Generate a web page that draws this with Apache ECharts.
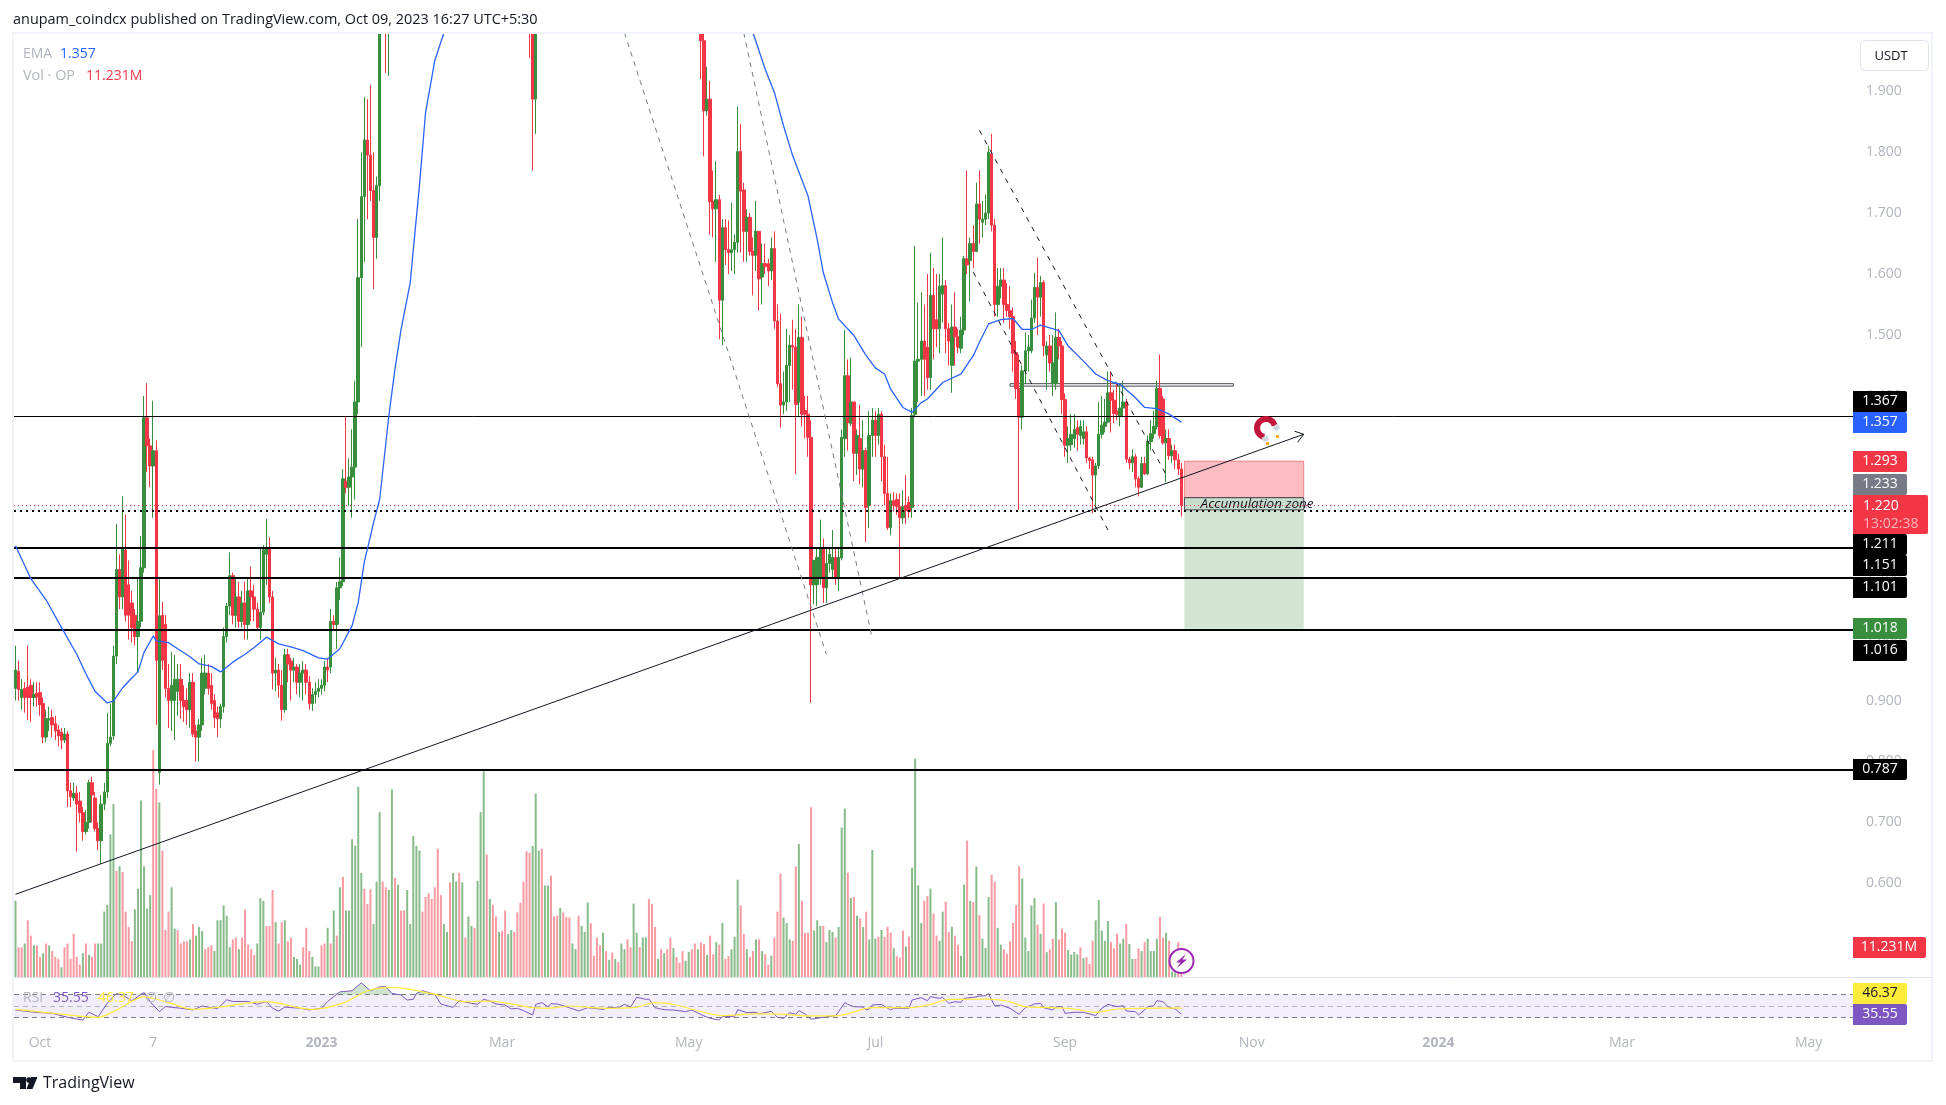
<!DOCTYPE html>
<html><head><meta charset="utf-8">
<style>html,body{margin:0;padding:0;background:#fff}#c{width:1946px;height:1105px}</style>
<script src="https://cdn.jsdelivr.net/npm/echarts@6/dist/echarts.min.js"></script>
</head><body><div id="c"></div>
<script>
// ---------- data ----------
const startDate = '2022-09-23';
const barCount = 382;
const axisSlots = 601;
const timeLabels = {'2022-10-01':'Oct','2022-11-07':'7','2023-01-01':'2023','2023-03-01':'Mar','2023-05-01':'May','2023-07-01':'Jul','2023-09-01':'Sep','2023-11-01':'Nov','2024-01-01':'2024','2024-03-01':'Mar','2024-05-01':'May'};
const priceTicks = [0.5,0.6,0.7,0.8,0.9,1.0,1.1,1.2,1.3,1.4,1.5,1.6,1.7,1.8,1.9];

// [open, close, low, high]; bars that sit entirely above the visible range are not readable and are left out
const ohlcStart = [
[.92,.95,.90,.99],[.948,.918,.90,.965],[.905,.918,.885,.935],[.92,.905,.88,.93],[.922,.905,.868,.99],[.925,.905,.865,.935],[.905,.91,.89,.93],[.912,.906,.89,.93],[.913,.893,.875,.93],[.895,.84,.83,.905],
[.84,.87,.832,.885],[.868,.87,.85,.89],[.872,.86,.84,.885],[.862,.85,.835,.875],[.852,.842,.825,.86],[.848,.835,.82,.855],[.835,.845,.83,.855],[.845,.752,.725,.85],[.752,.742,.725,.765],[.74,.748,.735,.765],
[.748,.73,.652,.76],[.735,.716,.70,.75],[.716,.685,.67,.725],[.685,.70,.68,.72],[.70,.765,.69,.77],[.765,.745,.70,.775],[.74,.69,.685,.75],[.69,.67,.655,.70],[.67,.73,.632,.745],[.73,.75,.72,.765],
[.75,.83,.74,.88],[.83,.84,.825,.895],[.842,.973,.835,.99],[.973,1.115,.96,1.19],[1.115,1.07,1.05,1.14],[1.07,1.15,1.05,1.235],[1.147,1.04,1.03,1.205],[1.09,1.04,1.0,1.13],[1.06,1.02,.995,1.08],[1.04,1.005,.99,1.05],
[1.005,1.03,.945,1.10],[1.03,1.118,1.02,1.17],[1.118,1.364,1.11,1.40],[1.364,1.318,1.275,1.421],[1.318,1.285,1.25,1.33],[1.285,1.31,1.20,1.392],[1.31,.966,.86,1.327],[.782,1.039,.762,1.10],[1.04,.966,.95,1.062],[1.025,.92,.905,1.04],
[.92,.90,.855,.96],[.90,.925,.85,.98],[.90,.935,.835,.975],[.915,.935,.875,.96],[.935,.90,.87,.96],[.90,.89,.865,.925],[.90,.885,.86,.92],[.885,.93,.855,.945],[.93,.845,.84,.945],[.85,.84,.80,.86],
[.84,.86,.80,.87],[.86,.945,.85,.97],[.92,.945,.91,.975],[.945,.92,.91,.96],[.925,.895,.885,.945],[.90,.872,.855,.91],[.88,.87,.84,.89],[.87,.89,.855,.895],[.89,1.005,.88,1.02],[1.005,1.055,.995,1.06],
[1.055,1.105,1.04,1.143],[1.105,1.04,1.025,1.11],[1.04,1.07,1.02,1.10],[1.07,1.03,1.02,1.095],[1.03,1.06,1.02,1.08],[1.06,1.025,1.0,1.095],[1.025,1.08,1.0,1.10],[1.08,1.07,1.03,1.12],[1.07,1.05,1.03,1.09],[1.05,1.02,1.015,1.06],
[1.02,1.045,1.0,1.15],[1.045,1.148,1.04,1.155],[1.14,1.15,1.09,1.198],[1.15,1.07,1.06,1.168],[1.07,.945,.918,1.08],[.945,.95,.915,.97],[.95,.925,.905,.96],[.925,.885,.867,.95],[.885,.975,.88,.985],[.975,.96,.93,.985],
[.965,.95,.90,.97],[.95,.955,.93,.97],[.955,.93,.91,.96],[.93,.945,.905,.96],[.945,.95,.90,.965],[.95,.93,.91,.96],[.93,.895,.885,.94],[.895,.91,.883,.92],[.91,.915,.895,.93],[.915,.92,.905,.935],
[.92,.925,.91,.935],[.925,.955,.915,.965],[.955,.95,.93,.97],[.955,1.03,.945,1.05],[1.03,1.025,1.015,1.04],[1.025,1.085,.985,1.095],[1.085,1.095,1.065,1.135],[1.095,1.264,1.088,1.28],[1.26,1.25,1.24,1.367],[1.25,1.267,1.22,1.297],
[1.267,1.283,1.20,1.345],[1.283,1.39,1.23,1.425],[1.39,1.594,1.37,1.69],[1.594,1.727,1.48,1.80],[1.727,1.82,1.62,1.89],[1.82,1.795,1.69,1.887],[1.795,1.737,1.72,1.91],[1.737,1.66,1.575,1.80],[1.66,1.745,1.625,1.76],[1.745,2.1,1.72,2.2],
null,[2.1,2.05,1.93,2.2],[2.05,2.1,1.925,2.2]];
const ohlcMarch = [[2.1,2.03,1.955,2.2],[2.1,1.887,1.77,2.2],[1.887,2.1,1.83,2.2]]; // bars 168-170
const ohlcEnd = [
[2.1,1.983,1.92,2.2],[1.983,1.868,1.793,2.0],[1.868,1.887,1.86,1.94],[1.887,1.719,1.665,1.917],[1.719,1.707,1.66,1.77],[1.707,1.722,1.62,1.785],[1.722,1.557,1.493,1.73],[1.557,1.676,1.483,1.69],[1.676,1.64,1.615,1.69],[1.64,1.635,1.60,1.688],
[1.635,1.64,1.605,1.717],[1.64,1.652,1.60,1.665],[1.652,1.801,1.635,1.875],[1.801,1.736,1.635,1.846],[1.738,1.67,1.62,1.75],[1.67,1.693,1.62,1.706],[1.693,1.637,1.63,1.70],[1.637,1.631,1.565,1.66],[1.631,1.67,1.605,1.72],[1.67,1.592,1.54,1.67],
[1.595,1.617,1.55,1.65],[1.617,1.612,1.60,1.65],[1.617,1.605,1.58,1.625],[1.605,1.642,1.59,1.66],[1.642,1.523,1.51,1.67],[1.523,1.42,1.415,1.55],[1.42,1.385,1.348,1.535],[1.385,1.39,1.37,1.44],[1.39,1.45,1.375,1.51],[1.45,1.483,1.39,1.50],
[1.483,1.48,1.41,1.525],[1.48,1.386,1.272,1.51],[1.39,1.496,1.365,1.55],[1.496,1.37,1.35,1.53],[1.376,1.37,1.33,1.40],[1.37,1.332,1.30,1.40],[1.332,1.09,.896,1.36],[1.09,1.13,1.058,1.13],[1.09,1.135,1.055,1.15],[1.10,1.15,1.09,1.197],
[1.15,1.085,1.06,1.166],[1.085,1.125,1.06,1.15],[1.125,1.14,1.11,1.15],[1.115,1.135,1.10,1.18],[1.135,1.10,1.09,1.15],[1.10,1.135,1.08,1.15],[1.134,1.332,1.13,1.345],[1.33,1.433,1.30,1.508],[1.433,1.356,1.31,1.46],[1.355,1.39,1.35,1.463],
[1.39,1.306,1.26,1.39],[1.306,1.335,1.27,1.345],[1.33,1.28,1.255,1.385],[1.28,1.31,1.25,1.36],[1.31,1.217,1.16,1.315],[1.22,1.335,1.183,1.375],[1.335,1.36,1.30,1.38],[1.36,1.335,1.30,1.375],[1.335,1.37,1.32,1.38],[1.37,1.30,1.26,1.375],
[1.30,1.24,1.22,1.32],[1.24,1.184,1.18,1.30],[1.184,1.228,1.171,1.24],[1.228,1.22,1.21,1.242],[1.23,1.218,1.205,1.24],[1.218,1.20,1.10,1.24],[1.20,1.218,1.19,1.245],[1.22,1.212,1.19,1.27],[1.225,1.21,1.20,1.235],[1.217,1.368,1.20,1.38],
[1.37,1.457,1.365,1.646],[1.457,1.46,1.39,1.553],[1.46,1.49,1.40,1.57],[1.49,1.46,1.40,1.55],[1.48,1.43,1.41,1.60],[1.43,1.565,1.41,1.635],[1.565,1.51,1.46,1.61],[1.525,1.51,1.48,1.60],[1.51,1.58,1.47,1.60],[1.567,1.581,1.52,1.66],
[1.581,1.51,1.47,1.59],[1.51,1.49,1.45,1.52],[1.45,1.513,1.405,1.55],[1.513,1.497,1.45,1.57],[1.497,1.48,1.47,1.51],[1.478,1.508,1.47,1.53],[1.508,1.625,1.50,1.63],[1.625,1.615,1.60,1.77],[1.622,1.65,1.555,1.66],[1.65,1.637,1.61,1.68],
[1.637,1.715,1.637,1.75],[1.715,1.69,1.65,1.77],[1.685,1.69,1.66,1.72],[1.69,1.70,1.68,1.73],[1.70,1.80,1.69,1.81],[1.797,1.68,1.67,1.83],[1.68,1.55,1.53,1.69],[1.55,1.58,1.53,1.61],[1.58,1.59,1.56,1.61],[1.59,1.55,1.52,1.61],
[1.55,1.54,1.53,1.585],[1.54,1.53,1.51,1.58],[1.53,1.47,1.44,1.545],[1.471,1.412,1.395,1.49],[1.412,1.365,1.213,1.468],[1.365,1.441,1.345,1.45],[1.441,1.474,1.42,1.504],[1.474,1.48,1.44,1.50],[1.474,1.528,1.47,1.558],[1.528,1.578,1.52,1.602],
[1.578,1.562,1.50,1.627],[1.562,1.586,1.53,1.597],[1.586,1.482,1.465,1.59],[1.467,1.482,1.41,1.49],[1.482,1.454,1.44,1.50],[1.42,1.454,1.40,1.50],[1.42,1.496,1.41,1.537],[1.496,1.482,1.46,1.51],[1.482,1.394,1.37,1.49],[1.394,1.319,1.30,1.404],
[1.319,1.33,1.29,1.35],[1.32,1.337,1.31,1.37],[1.33,1.345,1.315,1.37],[1.348,1.337,1.31,1.36],[1.335,1.35,1.32,1.36],[1.33,1.341,1.32,1.36],[1.341,1.298,1.29,1.35],[1.298,1.294,1.28,1.30],[1.295,1.27,1.207,1.30],[1.27,1.285,1.215,1.29],
[1.285,1.337,1.28,1.39],[1.337,1.352,1.33,1.40],[1.35,1.357,1.34,1.395],[1.357,1.405,1.355,1.44],[1.405,1.393,1.34,1.44],[1.393,1.371,1.355,1.41],[1.375,1.37,1.36,1.42],[1.367,1.38,1.35,1.42],[1.38,1.39,1.365,1.425],[1.39,1.296,1.29,1.395],
[1.296,1.29,1.28,1.30],[1.29,1.30,1.275,1.312],[1.30,1.264,1.25,1.305],[1.264,1.25,1.235,1.268],[1.25,1.289,1.25,1.30],[1.289,1.272,1.27,1.30],[1.272,1.325,1.27,1.335],[1.325,1.338,1.31,1.36],[1.338,1.35,1.33,1.375],[1.35,1.412,1.345,1.425],
[1.412,1.335,1.33,1.468],[1.395,1.323,1.32,1.40],[1.323,1.33,1.258,1.345],[1.33,1.302,1.295,1.345],[1.302,1.31,1.29,1.32],[1.31,1.295,1.28,1.32],[1.295,1.28,1.27,1.305],[1.28,1.22,1.202,1.29]];

// volume in millions: positive = green bar, negative = red bar
const volumeStart = [282,-110,-110,124,-210,-153,117,-117,-74,88,-124,117,-96,-74,-67,36,-110,-124,-67,-160,-74,-46,88,-124,82,-74,-124,124,124,242,267,528,640,-393,410,-389,-242,-185,-132,250,327,653,410,253,303,-875,-696,646,-468,-174,-242,332,179,-174,-124,-132,-132,139,-196,153,185,170,-103,-110,-117,96,210,210,265,227,110,-139,-146,103,-146,-250,-120,-103,-82,124,292,282,-189,-189,-322,203,-124,-203,210,-132,-146,74,67,46,-110,-182,-96,74,39,39,-117,-124,182,-124,246,-153,332,-370,246,246,510,486,704,385,-327,-270,-325,196,353,610,-353,-332,322,694,-367,342,-246,-246,322,196,522,485,468,-242,-296,-310,-289,-332,-475,-303,196,167,-350,385,353,-385,350,-146,224,189,-182,356,610,761,-453,289,-267,-224,167,-170,-246,160,174,-167,-239,-275,-353,-465,-460,485,679,468,-475,339,339,-375,-224,-227,256,-239,-222,-220,124,103,-227,189,167,275,-199,-79,-146,-117,164,-96,64,-90,67,-56,124,103,-139,-110,272,164,-110,146,146,-289,-270,-185,67,-103,88,-103,-146,107,-74,-53,-96,60,93,-103,-124,103];
const volumeEnd = [-127,-122,82,-153,-84,129,-120,200,-67,-77,103,149,360,-265,-160,103,-74,-96,139,-139,96,-84,-46,79,-146,-242,-383,220,200,139,-134,-409,492,-282,-164,-164,-628,172,210,189,-189,129,174,167,-146,185,553,623,-386,293,-296,227,-217,185,-242,139,470,142,-149,174,-149,-186,-164,107,-77,-72,-172,113,-149,405,808,339,200,-282,-299,327,-235,-153,134,242,-279,-167,186,-153,-120,79,342,-505,282,-277,409,-229,142,107,296,-379,-353,182,120,-103,-86,-132,-200,-267,-410,365,146,96,265,292,-193,160,-272,92,-103,-142,277,-139,-179,-164,100,83,93,84,-110,70,-74,-49,-134,210,285,172,134,207,-129,-106,-160,124,142,-196,122,67,-67,-106,96,-129,142,96,96,142,-222,-146,164,-134,21,17,-129,-11];

// [bar, value] points
const emaPoints = [[0,1.154],[5,1.10],[10,1.065],[15,1.02],[20,.976],[23,.944],[26,.915],[30,.896],[32,.899],[35,.921],[38,.937],[40,.947],[42,.979],[45,1.006],[46,.998],[50,.995],[53,.985],[57,.972],[60,.96],[64,.956],[67,.947],[71,.963],[75,.976],[78,.987],[82,1.004],[86,.993],[90,.988],[94,.982],[99,.97],[102,.968],[106,.985],[110,1.023],[112,1.061],[114,1.128],[116,1.17],[117,1.192],[119,1.23],[122,1.367],[124,1.444],[126,1.509],[129,1.586],[130,1.64],[132,1.745],[134,1.865],[137,1.95],[140,1.996],[190,null],[241,1.996],[245,1.936],[248,1.898],[251,1.843],[254,1.794],[259,1.728],[262,1.657],[264,1.602],[267,1.553],[269,1.526],[274,1.499],[278,1.466],[281,1.446],[284,1.436],[286,1.411],[290,1.381],[293,1.373],[296,1.389],[298,1.395],[303,1.422],[309,1.436],[313,1.466],[315,1.488],[318,1.518],[322,1.525],[326,1.527],[329,1.509],[332,1.509],[335,1.516],[341,1.507],[344,1.482],[349,1.457],[353,1.436],[357,1.425],[361,1.419],[366,1.397],[369,1.381],[373,1.379],[377,1.37],[381,1.357]];

const rsiPoints = [[0,43],[6,39],[12,37],[17,30],[22,25],[24,39],[27,31],[30,55],[33,72],[35,69.5],[38,59.4],[42,74],[44,57.6],[47,40],[49,49],[54,46],[58,43],[61,50],[66,45],[69,61],[71,58],[76,58],[79,53],[82,58],[84,46],[86,41],[88,48],[93,46],[96,43],[100,46],[102,58],[106,75],[110,77],[113,91],[116,77],[119,84],[121,84],[123,72.4],[126,69.5],[128,60.6],[130,61.8],[131,72],[133,77],[137,70.6],[139,53.5],[143,47.6],[145,59.4],[149,54.7],[151,53],[153,61.8],[155,58.8],[157,53.5],[160,51.8],[162,44.7],[164,45.9],[166,41.8],[169,34.1],[170,52.9],[172,55.9],[174,48.8],[175,54.1],[177,53.5],[179,50.6],[181,47],[184,41.2],[187,47],[192,44],[194,47.6],[197,47],[199,52.9],[201,48.2],[203,65.3],[206,61.8],[207,62.3],[209,47],[212,43.5],[215,42.9],[219,40],[221,42.9],[225,32.4],[227,28.2],[230,25.3],[231,31.2],[235,31.8],[236,43.5],[239,38.2],[242,38.8],[243,35.9],[247,40.6],[249,30],[251,28.2],[253,38.2],[255,35.3],[256,41.8],[258,35.9],[260,26.5],[264,30],[268,33],[269,40],[271,55.9],[272,52.9],[274,48.8],[277,48.2],[278,42.9],[279,44.7],[280,51.8],[283,52.9],[286,42.9],[287,45.9],[292,45.9],[293,60.6],[296,64.7],[298,59.4],[299,66.5],[302,63.5],[303,65.3],[305,54.7],[307,57.6],[309,56.5],[310,63.5],[313,65.3],[315,67.6],[317,68.2],[318,71.7],[320,50],[322,51.8],[325,45.9],[328,35.3],[330,47],[333,53.5],[335,54.7],[336,47],[339,42.9],[340,48.8],[342,48.8],[343,37],[346,38.8],[349,38.8],[353,33],[355,45.9],[357,52.9],[360,48.8],[362,50.6],[363,41.2],[366,40],[367,34.1],[369,42.9],[370,48.8],[372,50.6],[373,59.4],[375,57.6],[377,47],[379,44.7],[381,35.55]];
const rsiMaPoints = [[0,44],[11,38],[27,30],[33,43],[42,66],[50,56],[58,44],[82,57.6],[97,44],[107,55],[115,77],[123,83],[137,70.6],[147,57.6],[155,58.8],[169,47],[174,45.9],[181,50],[192,45.9],[202,47],[209,55.9],[216,51.8],[222,42.9],[231,33],[242,35.9],[251,35.3],[260,32.4],[269,33],[280,47],[286,47],[292,47],[299,52.9],[305,61.8],[318,62.3],[324,58.8],[330,48.8],[339,47],[346,44.7],[353,38.8],[360,44.7],[370,45.9],[381,46.37]];

// drawings: levels in price, anchors in [bar, price]
const solidLevels = [1.151,1.101,1.016,0.787];
const thinLevel = 1.367, dottedLevel = 1.211, lastPrice = 1.220;
const greyChannel = [[[199,1.996],[265,.976]],[[238,1.996],[280,1.001]]];
const blackChannel = [[[315,1.836],[376,1.271]],[[313,1.603],[357,1.18]]];
const trendLine = [[0,.582],[421,1.337]];
const arrowHead = [[[418,1.342],[421,1.337]],[[419,1.324],[421,1.337]]];
const resistanceBox = [[325,1.42],[398,1.416]];
const riskBox = [[382,1.293],[421,1.233]];
const rewardBox = [[382,1.233],[421,1.018]];
const accumulationBox = [[382,1.233],[421,1.213]];

// ---------- assembly ----------
const pad = n => String(n).padStart(2,'0');
const categories = [];
{ const d0 = new Date(startDate+'T00:00:00Z');
  for (let i=0;i<axisSlots;i++){ const d = new Date(d0.getTime()+i*864e5);
    categories.push(d.getUTCFullYear()+'-'+pad(d.getUTCMonth()+1)+'-'+pad(d.getUTCDate())); } }
const blank = ['-','-','-','-'];
const candles = new Array(barCount).fill(blank);
ohlcStart.forEach((c,i)=>{ if(c) candles[i]=c; });
ohlcMarch.forEach((c,i)=>{ candles[168+i]=c; });
ohlcEnd.forEach((c,i)=>{ candles[barCount-ohlcEnd.length+i]=c; });
const volumes = new Array(barCount).fill(null);
volumeStart.forEach((v,i)=>{ if(i<barCount-volumeEnd.length) volumes[i]=v; });
volumeEnd.forEach((v,i)=>{ volumes[barCount-volumeEnd.length+i]=v; });

const FONT = '"Open Sans", sans-serif';
const GREEN='#388e3c', RED='#f23645', AXIS='#b2b5be';
const seg = (pair,style)=>[{xAxis:pair[0][0],yAxis:pair[0][1],lineStyle:style,symbol:'none'},{xAxis:pair[1][0],yAxis:pair[1][1],symbol:'none'}];
const lvl = (y,style)=>({yAxis:y,lineStyle:style,symbol:'none'});
const box = (b,itemStyle,extra)=>[Object.assign({xAxis:b[0][0],yAxis:b[0][1],itemStyle},extra||{}),{xAxis:b[1][0],yAxis:b[1][1]}];

const tags = [
 ['1.367',391,'#000','#fff'],['1.357',412,'#2962ff','#fff'],['1.293',451,RED,'#fff'],['1.233',474,'#787b86','#fff'],
 ['1.211',534,'#000','#fff'],['1.151',555,'#000','#fff'],['1.101',577,'#000','#fff'],['1.018',618,GREEN,'#fff'],['1.016',640,'#000','#fff'],['0.787',759,'#000','#fff'],
 ['46.37',983,'#ffeb3b','#131722'],['35.55',1004,'#7e57c2','#fff']];
const txt=(text,x,y,fill,size,extra)=>({type:'text',z:120,silent:true,style:Object.assign({text,x,y,fill,font:(size||13)+'px '+FONT,verticalAlign:'middle',textVerticalAlign:'middle'},extra||{})});
const graphics=[
 {type:'rect',z:90,silent:true,shape:{x:0,y:0,width:1946,height:32},style:{fill:'#fff'}},
 {type:'rect',z:91,silent:true,shape:{x:13,y:33,width:1919,height:1028},style:{fill:'none',stroke:'#f0f3fa',lineWidth:2}},
 {type:'line',z:91,silent:true,shape:{x1:14,y1:977.5,x2:1932,y2:977.5},style:{stroke:'#e0e3eb',lineWidth:1}},
 txt('anupam_coindcx published on TradingView.com, Oct 09, 2023 16:27 UTC+5:30',13,20,'#131722',14.45),
 txt('EMA',23,54.5,AXIS,14),txt('1.357',60,54.5,'#2962ff',14),
 txt('Vol · OP',23,76,AXIS,14.4),txt('11.231M',86,76,RED,14),
 txt('RSI',23,998,AXIS,14),txt('35.55',53,998,'#7e57c2',14),txt('46.37',98,998,'#ffeb3b',14),txt('∅',145,998,AXIS,14),txt('∅',163,998,AXIS,14),
 {type:'rect',z:110,silent:true,shape:{x:1860.5,y:40.5,width:68,height:30,r:4},style:{fill:'#fff',stroke:'#e0e3eb',lineWidth:1}},
 txt('USDT',1891,56,'#131722',13,{textAlign:'center'}),
];
tags.forEach(t=>{
 graphics.push({type:'rect',z:110,silent:true,shape:{x:1853,y:t[1],width:54,height:21,r:[0,2,2,0]},style:{fill:t[2]}});
 graphics.push(txt(t[0],1880,t[1]+10.5,t[3],14,{textAlign:'center'}));
});
graphics.push(
 {type:'rect',z:111,silent:true,shape:{x:1853,y:495,width:75,height:39,r:[0,2,2,0]},style:{fill:RED}},
 txt('1.220',1863,506,'#fff',14),txt('13:02:38',1863,524,'#fbb4ba',14),
 {type:'rect',z:110,silent:true,shape:{x:1853,y:937,width:73,height:21,r:[0,2,2,0]},style:{fill:RED}},
 txt('11.231M',1889,947.5,'#fff',14,{textAlign:'center'}),
 // lightning badge
 {type:'circle',z:115,silent:true,shape:{cx:1181.5,cy:961,r:12},style:{fill:'#fff',stroke:'#9c27b0',lineWidth:2}},
 {type:'polygon',z:116,silent:true,shape:{points:[[1186,954],[1176,962.5],[1180.5,962.5],[1177,968],[1187,959.5],[1182.5,959.5]]},style:{fill:'#9c27b0'}},
 // magnet
 {type:'arc',z:115,silent:true,shape:{cx:1266,cy:428,r:9,startAngle:100*Math.PI/180,endAngle:345*Math.PI/180,clockwise:true},style:{stroke:'#c2183b',fill:'none',lineWidth:6}},
 {type:'line',z:115,silent:true,shape:{x1:1264.5,y1:436.5,x2:1266.5,y2:441},style:{stroke:'#cfd8dc',lineWidth:6}},
 {type:'line',z:115,silent:true,shape:{x1:1274.5,y1:426,x2:1278.5,y2:429.5},style:{stroke:'#cfd8dc',lineWidth:6}},
 {type:'rect',z:116,silent:true,shape:{x:1266,y:442,width:3,height:3},style:{fill:'#ffa726'}},
 {type:'rect',z:116,silent:true,shape:{x:1276,y:435,width:3,height:3},style:{fill:'#ffa726'}},
 // TradingView mark
 {type:'polygon',z:120,silent:true,shape:{points:[[13,1077],[26,1077],[26,1089],[20,1089],[20,1083],[13,1083]]},style:{fill:'#131722'}},
 {type:'circle',z:120,silent:true,shape:{cx:29,cy:1080,r:2.8},style:{fill:'#131722'}},
 {type:'polygon',z:120,silent:true,shape:{points:[[31,1077],[37.5,1077],[32.5,1089],[26.5,1089]]},style:{fill:'#131722'}},
 txt('TradingView',43,1083,'#131722',16)
);

const xBase = {type:'category',data:categories,boundaryGap:true,axisLine:{show:false},axisTick:{show:false},splitLine:{show:false},axisPointer:{show:false}};
const option={
 animation:false,backgroundColor:'#fff',
 graphic:{elements:graphics},
 grid:[
  {left:14,width:1839,top:30.3,height:974.9,show:false},
  {left:14,width:1839,top:750,height:227,show:false},
  {left:14,width:1839,top:977.75,height:56.5,show:false}],
 xAxis:[
  Object.assign({},xBase,{gridIndex:0,axisLabel:{show:false}}),
  Object.assign({},xBase,{gridIndex:1,axisLabel:{show:false}}),
  Object.assign({},xBase,{gridIndex:2,axisLabel:{show:true,margin:2,color:AXIS,fontFamily:FONT,fontSize:14,
     interval:(i,v)=>timeLabels[v]!==undefined,
     formatter:v=>{const t=timeLabels[v]; return t===undefined?'':(/^\d{4}$/.test(t)?'{b|'+t+'}':t);},
     rich:{b:{fontWeight:'bold',color:AXIS,fontFamily:FONT,fontSize:14}}}})],
 yAxis:[
  {type:'value',gridIndex:0,position:'right',min:0.4,max:2.0,interval:0.1,axisLine:{show:false},axisTick:{show:false},splitLine:{show:false},
   axisLabel:{show:true,customValues:priceTicks,margin:13,color:AXIS,fontFamily:FONT,fontSize:14,padding:[3,0,0,0],formatter:v=>Number(v).toFixed(3)}},
  {type:'value',gridIndex:1,min:0,max:840,show:false},
  {type:'value',gridIndex:2,min:0,max:100,show:false}],
 series:[
  {name:'Vol',type:'bar',xAxisIndex:1,yAxisIndex:1,barWidth:2,z:1,silent:true,
   data:volumes.map(v=>v==null?null:{value:Math.abs(v),itemStyle:{color:v>0?'#88bb8a':'#f89aa2'}})},
  {name:'zones',type:'line',xAxisIndex:0,yAxisIndex:0,data:[],z:2,silent:true,
   markArea:{silent:true,data:[
    box(riskBox,{color:'rgba(242,54,69,0.33)',borderColor:'rgba(242,54,69,0.5)',borderWidth:1}),
    box(rewardBox,{color:'rgba(56,142,60,0.23)'})]}},
  {name:'Price',type:'candlestick',xAxisIndex:0,yAxisIndex:0,z:4,barWidth:3,silent:true,large:false,progressive:0,
   itemStyle:{color:GREEN,color0:RED,borderColor:GREEN,borderColor0:RED,borderWidth:1},data:candles},
  {name:'EMA',type:'line',xAxisIndex:0,yAxisIndex:0,z:5,data:emaPoints,showSymbol:false,symbol:'none',connectNulls:false,silent:true,lineStyle:{color:'#2962ff',width:1.3}},
  {name:'levels',type:'line',xAxisIndex:0,yAxisIndex:0,data:[],z:6,silent:true,
   markLine:{silent:true,symbol:'none',label:{show:false},animation:false,precision:4,
    data:[
     lvl(thinLevel,{color:'#000',width:1,type:'solid'}),
     lvl(lastPrice,{color:RED,width:1,type:[1,3]}),
     lvl(dottedLevel,{color:'#000',width:2,type:[2,4]}),
     ...solidLevels.map(y=>lvl(y,{color:'#000',width:2,type:'solid'})),
     ...greyChannel.map(p=>seg(p,{color:'#787b86',width:1,type:[5,5]})),
     ...blackChannel.map(p=>seg(p,{color:'#131722',width:1,type:[5,6]})),
     seg(trendLine,{color:'#131722',width:1,type:'solid'}),
     ...arrowHead.map(p=>seg(p,{color:'#131722',width:1,type:'solid'}))
    ]},
   markArea:{silent:true,data:[
    box(resistanceBox,{color:'rgba(255,255,255,0.6)',borderColor:'#434651',borderWidth:1}),
    box(accumulationBox,{color:'rgba(120,123,134,0.08)',borderColor:'#434651',borderWidth:1},
       {name:'Accumulation zone',label:{show:true,position:'inside',offset:[13,0],formatter:'Accumulation zone',color:'#131722',fontStyle:'italic',fontFamily:FONT,fontSize:13.5}})
   ]}},
  {name:'RSIband',type:'line',xAxisIndex:2,yAxisIndex:2,data:[],z:2,silent:true,
   markArea:{silent:true,data:[[{yAxis:70,itemStyle:{color:'rgba(126,87,194,0.1)'}},{yAxis:30}]]},
   markLine:{silent:true,symbol:'none',label:{show:false},data:[
     lvl(70,{color:'#787b86',width:1,type:[5,4]}),lvl(50,{color:'rgba(120,123,134,.5)',width:1,type:[5,4]}),lvl(30,{color:'#787b86',width:1,type:[5,4]})]}},
  {name:'RSIover',type:'line',xAxisIndex:2,yAxisIndex:2,z:3,silent:true,symbol:'none',lineStyle:{width:0},
   areaStyle:{origin:70,color:'rgba(56,142,60,0.35)'},data:rsiPoints.map(p=>[p[0],Math.max(p[1],70)])},
  {name:'RSI',type:'line',xAxisIndex:2,yAxisIndex:2,z:4,silent:true,symbol:'none',data:rsiPoints,lineStyle:{color:'#7e57c2',width:1}},
  {name:'RSI MA',type:'line',xAxisIndex:2,yAxisIndex:2,z:5,silent:true,symbol:'none',smooth:0.3,data:rsiMaPoints,lineStyle:{color:'#ffeb3b',width:1.2}}
 ]
};
const chart=echarts.init(document.getElementById('c'),null,{renderer:'canvas',width:1946,height:1105});
chart.setOption(option);
</script></body></html>
